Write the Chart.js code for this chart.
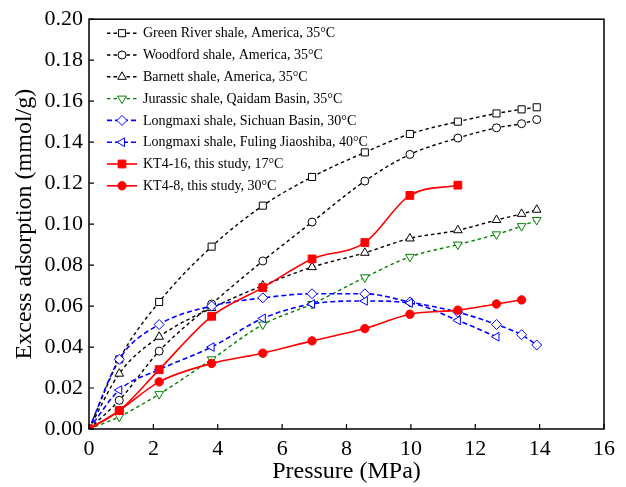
<!DOCTYPE html>
<html>
<head>
<meta charset="utf-8">
<script src="https://cdn.jsdelivr.net/npm/chart.js@4/dist/chart.umd.min.js"></script>
<style>
  html, body { margin: 0; padding: 0; background: #ffffff; }
  #wrap { width: 626px; height: 487px; }
</style>
</head>
<body>
<div id="wrap"><canvas id="c" width="626" height="487"></canvas></div>
<script>
// Pressure (MPa) of each isotherm
const pGreenRiver = [0, 0.94, 2.18, 3.81, 5.40, 6.93, 8.57, 9.97, 11.46, 12.66, 13.44, 13.91];
const pWoodford   = [0, 0.94, 2.18, 3.81, 5.40, 6.93, 8.57, 9.97, 11.46, 12.66, 13.44, 13.91];
const pBarnett    = [0, 0.94, 2.18, 3.81, 5.40, 6.93, 8.57, 9.97, 11.46, 12.66, 13.44, 13.91];
const pJurassic   = [0, 0.94, 2.18, 3.81, 5.40, 6.93, 8.57, 9.97, 11.46, 12.66, 13.44, 13.91];
const pSichuan    = [0, 0.94, 2.18, 3.81, 5.40, 6.93, 8.57, 9.97, 11.46, 12.66, 13.44, 13.91];
const pFuling     = [0, 0.94, 2.18, 3.81, 5.40, 6.93, 8.57, 9.97, 11.46, 12.66];
const pKT416      = [0, 0.94, 2.18, 3.81, 5.40, 6.93, 8.57, 9.97, 11.46];
const pKT48       = [0, 0.94, 2.18, 3.81, 5.40, 6.93, 8.57, 9.97, 11.46, 12.66, 13.44];

// Excess adsorption (mmol/g)
const vGreenRiver = [0, 0.034, 0.062, 0.089, 0.109, 0.123, 0.135, 0.144, 0.150, 0.154, 0.156, 0.157];
const vWoodford   = [0, 0.014, 0.038, 0.061, 0.082, 0.101, 0.121, 0.134, 0.142, 0.147, 0.149, 0.151];
const vBarnett    = [0, 0.027, 0.045, 0.059, 0.070, 0.079, 0.086, 0.093, 0.097, 0.102, 0.105, 0.107];
const vJurassic   = [0, 0.006, 0.017, 0.034, 0.051, 0.061, 0.074, 0.084, 0.090, 0.095, 0.099, 0.102];
const vSichuan    = [0, 0.034, 0.051, 0.060, 0.064, 0.066, 0.066, 0.062, 0.057, 0.051, 0.046, 0.041];
const vFuling     = [0, 0.019, 0.029, 0.040, 0.054, 0.061, 0.0625, 0.0615, 0.053, 0.045];
const vKT416      = [0, 0.009, 0.029, 0.055, 0.069, 0.083, 0.091, 0.114, 0.119];
const vKT48       = [0, 0.009, 0.023, 0.032, 0.037, 0.043, 0.049, 0.056, 0.058, 0.061, 0.063];

const seriesLabels = [
  'Green River shale, America, 35\u00B0C',
  'Woodford shale, America, 35\u00B0C',
  'Barnett shale, America, 35\u00B0C',
  'Jurassic shale, Qaidam Basin, 35\u00B0C',
  'Longmaxi shale, Sichuan Basin, 30\u00B0C',
  'Longmaxi shale, Fuling Jiaoshiba, 40\u00B0C',
  'KT4-16, this study, 17\u00B0C',
  'KT4-8, this study, 30\u00B0C'
];

const xTicks = [0, 2, 4, 6, 8, 10, 12, 14, 16];
const yTicks = [0, 0.02, 0.04, 0.06, 0.08, 0.10, 0.12, 0.14, 0.16, 0.18, 0.20];

const SERIF = '"Liberation Serif", "Times New Roman", serif';

function pts(px, py) { return px.map((x, i) => ({ x: x, y: py[i] })); }

function series(idx, px, py, style) {
  return Object.assign({
    label: seriesLabels[idx],
    data: pts(px, py),
    showLine: true,
    fill: false,
    cubicInterpolationMode: 'monotone',
    pointBorderWidth: 1,
    pointHoverRadius: 5,
    order: 10 - idx
  }, style);
}

const black = '#000000', green = '#008000', blue = '#0000ff', red = '#ff0000';

const datasets = [
  series(0, pGreenRiver, vGreenRiver, { borderColor: black, borderWidth: 1.4, borderDash: [3.5, 3], pointStyle: 'rect', pointRadius: 5, pointBorderColor: black, pointBackgroundColor: '#fff' }),
  series(1, pWoodford, vWoodford, { borderColor: black, borderWidth: 1.4, borderDash: [3.5, 3], pointStyle: 'circle', pointRadius: 4, pointBorderColor: black, pointBackgroundColor: '#fff' }),
  series(2, pBarnett, vBarnett, { borderColor: black, borderWidth: 1.4, borderDash: [3.5, 3], pointStyle: 'triangle', pointRadius: 5, pointBorderColor: black, pointBackgroundColor: '#fff' }),
  series(3, pJurassic, vJurassic, { borderColor: green, borderWidth: 1.4, borderDash: [3.5, 3], pointStyle: 'triangle', pointRotation: 180, pointRadius: 5, pointBorderColor: green, pointBackgroundColor: '#fff' }),
  series(4, pSichuan, vSichuan, { borderColor: blue, borderWidth: 1.6, borderDash: [5, 3], pointStyle: 'rectRot', pointRadius: 5, pointBorderColor: blue, pointBackgroundColor: '#fff' }),
  series(5, pFuling, vFuling, { borderColor: blue, borderWidth: 1.6, borderDash: [5, 3], pointStyle: 'triangle', pointRotation: -90, pointRadius: 5, pointBorderColor: blue, pointBackgroundColor: '#fff' }),
  series(6, pKT416, vKT416, { borderColor: red, borderWidth: 1.6, pointStyle: 'rect', pointRadius: 5.5, pointBorderColor: red, pointBackgroundColor: red }),
  series(7, pKT48, vKT48, { borderColor: red, borderWidth: 1.6, pointStyle: 'circle', pointRadius: 4.2, pointBorderColor: red, pointBackgroundColor: red })
];

// Frame, inward ticks and the line-and-marker legend
const framePlugin = {
  id: 'frameAndLegend',
  afterDatasetsDraw(chart) {
    const ctx = chart.ctx;
    const a = chart.chartArea;
    const xs = chart.scales.x, ys = chart.scales.y;
    ctx.save();
    ctx.setLineDash([]);
    ctx.strokeStyle = '#000';
    ctx.lineWidth = 1.5;
    ctx.strokeRect(a.left, a.top, a.right - a.left, a.bottom - a.top);
    ctx.lineWidth = 1.2;
    ctx.beginPath();
    xs.ticks.forEach(t => {
      const px = xs.getPixelForValue(t.value);
      ctx.moveTo(px, a.bottom);
      ctx.lineTo(px, a.bottom - 5);
    });
    ys.ticks.forEach(t => {
      const py = ys.getPixelForValue(t.value);
      ctx.moveTo(a.left, py);
      ctx.lineTo(a.left + 5, py);
    });
    ctx.stroke();

    // legend
    const x0 = a.left + 18, x1 = a.left + 48, xm = (x0 + x1) / 2;
    let y = a.top + 14;
    ctx.font = '14px ' + SERIF;
    ctx.textBaseline = 'middle';
    ctx.textAlign = 'left';
    chart.data.datasets.forEach(ds => {
      ctx.strokeStyle = ds.borderColor;
      ctx.lineWidth = ds.borderWidth;
      ctx.setLineDash(ds.borderDash || []);
      ctx.beginPath();
      ctx.moveTo(x0, y);
      ctx.lineTo(x1, y);
      ctx.stroke();
      ctx.setLineDash([]);
      ctx.fillStyle = ds.pointBackgroundColor;
      ctx.strokeStyle = ds.pointBorderColor;
      ctx.lineWidth = ds.pointBorderWidth;
      Chart.helpers.drawPoint(ctx, {
        pointStyle: ds.pointStyle,
        rotation: ds.pointRotation || 0,
        radius: ds.pointRadius,
        borderWidth: ds.pointBorderWidth
      }, xm, y);
      ctx.fillStyle = '#000';
      ctx.fillText(ds.label, x1 + 6, y + 0.5);
      y += 21.8;
    });
    ctx.restore();
  }
};

new Chart(document.getElementById('c'), {
  type: 'scatter',
  data: { datasets: datasets },
  options: {
    responsive: false,
    animation: false,
    layout: { padding: { left: 0, top: 13, right: 22, bottom: 0 } },
    plugins: {
      legend: { display: false },
      tooltip: { enabled: true }
    },
    scales: {
      x: {
        type: 'linear',
        min: 0, max: 16,
        afterBuildTicks(scale) { scale.ticks = xTicks.map(v => ({ value: v })); },
        afterFit(scale) { scale.height = 58; },
        grid: { display: false, drawTicks: false },
        border: { display: false },
        ticks: {
          padding: 7,
          color: '#000',
          font: { family: SERIF, size: 22 },
          maxRotation: 0,
          callback: v => String(v)
        },
        title: {
          display: true,
          text: 'Pressure (MPa)',
          color: '#000',
          font: { family: SERIF, size: 24 },
          padding: { top: 0, bottom: 1 }
        }
      },
      y: {
        type: 'linear',
        min: 0, max: 0.2,
        afterBuildTicks(scale) { scale.ticks = yTicks.map(v => ({ value: v })); },
        afterFit(scale) { scale.width = 89; },
        grid: { display: false, drawTicks: false },
        border: { display: false },
        ticks: {
          padding: 6,
          color: '#000',
          font: { family: SERIF, size: 22 },
          callback: v => Number(v).toFixed(2)
        },
        title: {
          display: true,
          text: 'Excess adsorption (mmol/g)',
          color: '#000',
          font: { family: SERIF, size: 24 },
          padding: { top: 10, bottom: 0 }
        }
      }
    }
  },
  plugins: [framePlugin]
});
</script>
</body>
</html>
